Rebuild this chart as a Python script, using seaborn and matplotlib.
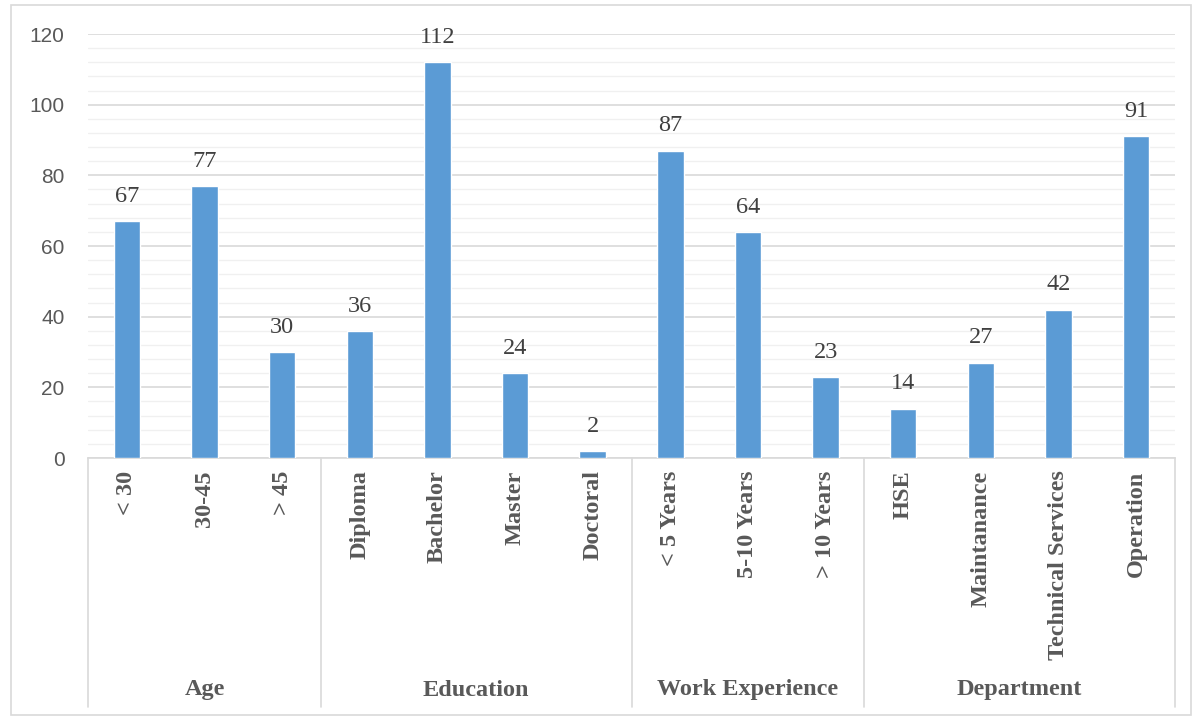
import pandas as pd
import numpy as np
import matplotlib.pyplot as plt
import seaborn as sns
from matplotlib.ticker import MultipleLocator

# -------------------
# Data
groups = ["Age", "Education", "Work Experience", "Department"]
age_labels = ["< 30", "30-45", "> 45"]
age_values = [67, 77, 30]
edu_labels = ["Diploma", "Bachelor", "Master", "Doctoral"]
edu_values = [36, 112, 24, 2]
exp_labels = ["< 5 Years", "5-10 Years", "> 10 Years"]
exp_values = [87, 64, 23]
dept_labels = ["HSE", "Maintanance", "Technical Services", "Operation"]
dept_values = [14, 27, 42, 91]

all_labels = [age_labels, edu_labels, exp_labels, dept_labels]
all_values = [age_values, edu_values, exp_values, dept_values]

rows = []
for g, labs, vals in zip(groups, all_labels, all_values):
    for l, v in zip(labs, vals):
        rows.append({"group": g, "category": l, "count": v})
df = pd.DataFrame(rows)
df["pos"] = range(len(df))

# -------------------
# Plot
sns.set_style("white")
plt.rcParams["font.family"] = ["Liberation Serif", "DejaVu Serif"]

fig = plt.figure(figsize=(11.95, 7.17), dpi=100)
ax = fig.add_axes([88 / 1195, 1 - 458 / 717, (1175 - 88) / 1195, (458 - 34) / 717])

sns.barplot(data=df, x="pos", y="count", color="#5b9bd5", width=0.34,
            saturation=1, ax=ax, zorder=3)

ax.set_ylim(0, 120)
ax.set_xlim(-0.5, len(df) - 0.5)
ax.yaxis.set_major_locator(MultipleLocator(20))
ax.yaxis.set_minor_locator(MultipleLocator(4))
ax.grid(axis="y", which="major", color="#d9d9d9", lw=1.2, zorder=0)
ax.grid(axis="y", which="minor", color="#f0f0f0", lw=1.0, zorder=0)
ax.set_axisbelow(True)
for s in ["top", "right", "left"]:
    ax.spines[s].set_visible(False)
ax.spines["bottom"].set_color("#d9d9d9")
ax.spines["bottom"].set_linewidth(1.2)

ax.tick_params(axis="y", which="both", length=0, pad=17, labelsize=15, labelcolor="#595959")
for t in ax.get_yticklabels():
    t.set_fontfamily("Liberation Sans")
ax.tick_params(axis="x", length=0, pad=9)
ax.set_xticks(df["pos"])
ax.set_xticklabels(df["category"], rotation=90, fontsize=17.5, fontweight="bold",
                   color="#595959", va="top")
ax.set_xlabel("")
ax.set_ylabel("")

# data labels
for p, v in zip(df["pos"], df["count"]):
    ax.text(p, v + 4, str(v), ha="center", va="bottom", fontsize=17.5, color="#404040")

# group separators and labels below the axis
trans = ax.get_xaxis_transform()
bottom_y = -(707 - 458) / (458 - 34)
label_y = -(690 - 458) / (458 - 34)
bounds = [-0.5]
start = 0
for labs in all_labels:
    start += len(labs)
    bounds.append(start - 0.5)
for b in bounds:
    ax.plot([b, b], [0, bottom_y], transform=trans, color="#d9d9d9", lw=1.2, clip_on=False)
for g, b0, b1 in zip(groups, bounds[:-1], bounds[1:]):
    ax.text((b0 + b1) / 2, label_y, g, transform=trans, ha="center", va="center",
            fontsize=17.5, fontweight="bold", color="#595959")

# outer border
fig.patches.append(plt.Rectangle((11 / 1195, 2 / 717), 1180 / 1195, 710 / 717,
                                 transform=fig.transFigure, fill=False,
                                 edgecolor="#d9d9d9", lw=1.2))

fig.savefig("out.png", dpi=100)
